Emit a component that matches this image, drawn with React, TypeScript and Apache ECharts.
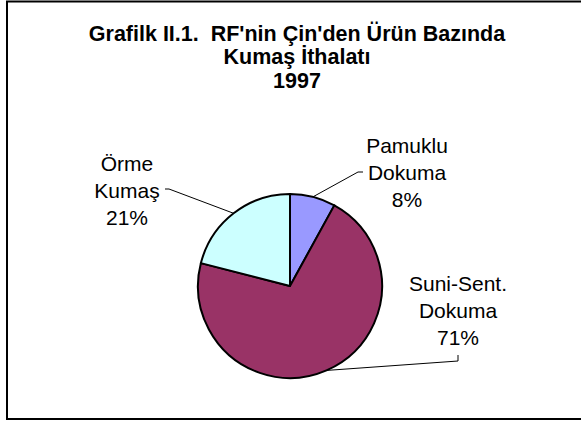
import React, { useEffect, useRef } from "react";
import * as echarts from "echarts";

const titleLines = ["Grafilk II.1.  RF'nin Çin'den Ürün Bazında", "Kumaş İthalatı", "1997"];
const categories = ["Pamuklu\nDokuma", "Suni-Sent.\nDokuma", "Örme\nKumaş"];
const values = [8, 71, 21];
const colors = ["#9999FF", "#993366", "#CCFFFF"];
// label block anchors (centre of the middle line) and leader-line bends
const labelAnchors = [
  [407, 172],
  [458, 310],
  [127, 190],
];
const leaderBends = [
  [[358, 172], [363, 172]],
  [[458, 361], [458, 355]],
  [[169, 189], [165, 189]],
];

const FONT = "Arial, 'Liberation Sans', sans-serif";

export default function App() {
  const ref = useRef<HTMLDivElement>(null);
  useEffect(() => {
    if (!ref.current) return;
    const chart = echarts.init(ref.current, undefined, { renderer: "svg" });
    chart.setOption({
      animation: false,
      backgroundColor: "#ffffff",
      title: {
        text: titleLines.join("\n"),
        left: 292,
        top: 17,
        textAlign: "center",
        textStyle: {
          fontFamily: FONT,
          fontSize: 21.5,
          fontWeight: "bold",
          color: "#000",
          lineHeight: 23.5,
        },
      },
      graphic: [
        {
          type: "rect",
          shape: { x: 7, y: 1.5, width: 600, height: 417.5 },
          style: { fill: "none", stroke: "#000", lineWidth: 2 },
          silent: true,
        },
      ],
      series: [
        {
          type: "pie",
          center: [290, 286],
          radius: 92,
          startAngle: 90,
          clockwise: true,
          avoidLabelOverlap: false,
          itemStyle: { borderColor: "#000", borderWidth: 2 },
          label: {
            show: true,
            position: "outside",
            formatter: (p: any) => `${p.name}\n${p.value}%`,
            fontFamily: FONT,
            fontSize: 21,
            color: "#000",
            lineHeight: 27,
            align: "center",
          },
          labelLine: {
            show: true,
            lineStyle: { color: "#000", width: 1 },
          },
          labelLayout: (params: any) => {
            const i = params.dataIndex;
            const a = labelAnchors[i];
            const start = params.labelLinePoints ? params.labelLinePoints[0] : a;
            return {
              x: a[0],
              y: a[1],
              align: "center",
              verticalAlign: "middle",
              labelLinePoints: [start, leaderBends[i][0], leaderBends[i][1]],
            };
          },
          emphasis: { disabled: true },
          data: categories.map((c, i) => ({
            name: c,
            value: values[i],
            itemStyle: { color: colors[i] },
          })),
        },
      ],
    });
    return () => chart.dispose();
  }, []);
  return (
    <div
      ref={ref}
      style={{ position: "fixed", left: 0, top: 0, width: 581, height: 421 }}
    />
  );
}
